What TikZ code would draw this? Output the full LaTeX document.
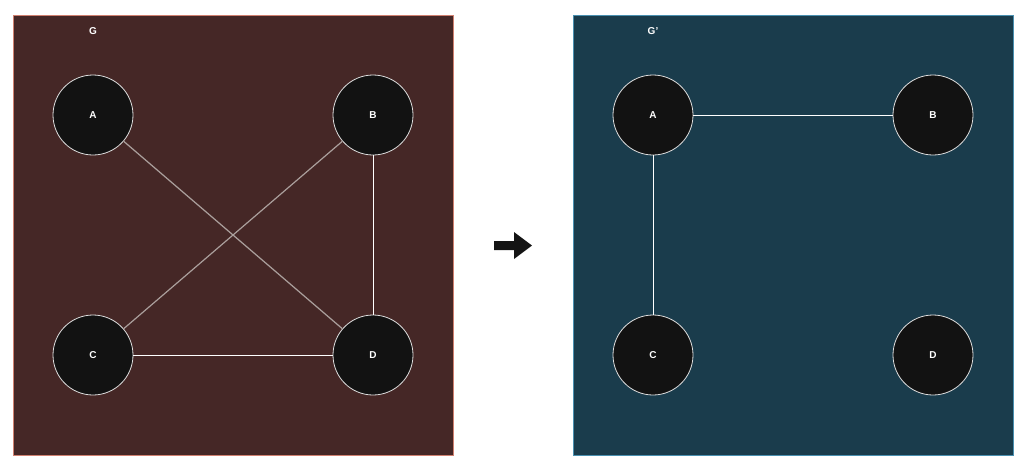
\documentclass[tikz,border=0pt]{standalone}
\usepackage{fontspec}
\setmainfont{Liberation Sans}
\definecolor{leftbg}{HTML}{452726}
\definecolor{leftbd}{HTML}{D08070}
\definecolor{rightbg}{HTML}{1A3C4C}
\definecolor{rightbd}{HTML}{4A90B0}
\definecolor{nodefill}{HTML}{121212}
\definecolor{nodebd}{HTML}{DDDDDD}
\definecolor{diag}{HTML}{ABA09D}
\begin{document}
\begin{tikzpicture}[x=1pt,y=-1pt,
  vtx/.style={circle,draw=nodebd,fill=nodefill,line width=0.8pt,minimum size=80pt,inner sep=0pt,text=white,font=\bfseries\fontsize{10}{12}\selectfont},
  ttl/.style={text=white,font=\bfseries\fontsize{10}{12}\selectfont},
  edg/.style={draw=white,line width=0.9pt},
  dedg/.style={draw=diag,line width=1.2pt}]
\useasboundingbox (0,0) rectangle (1029,472);
\fill[white] (0,0) rectangle (1029,472);
\draw[fill=leftbg,draw=leftbd,line width=0.8pt] (13.5,15.5) rectangle (453.5,455.5);
\draw[fill=rightbg,draw=rightbd,line width=0.8pt] (573.5,15.5) rectangle (1013.5,455.5);
\node[ttl] (g) at (93,31) {G};
\node[ttl] (gp) at (653,31) {G'};
% left graph
\node[vtx] (A) at (93,115) {A};
\node[vtx] (B) at (373,115) {B};
\node[vtx] (C) at (93,355) {C};
\node[vtx] (D) at (373,355) {D};
\draw[dedg] (A) -- (D);
\draw[dedg] (B) -- (C);
\draw[edg] (B) -- (D);
\draw[edg] (C) -- (D);
% right graph
\node[vtx] (A2) at (653,115) {A};
\node[vtx] (B2) at (933,115) {B};
\node[vtx] (C2) at (653,355) {C};
\node[vtx] (D2) at (933,355) {D};
\draw[edg] (A2) -- (B2);
\draw[edg] (A2) -- (C2);
% arrow
\fill[black!92] (494,241) -- (514,241) -- (514,232) -- (532,245.5) -- (514,259) -- (514,250) -- (494,250) -- cycle;
\end{tikzpicture}
\end{document}
